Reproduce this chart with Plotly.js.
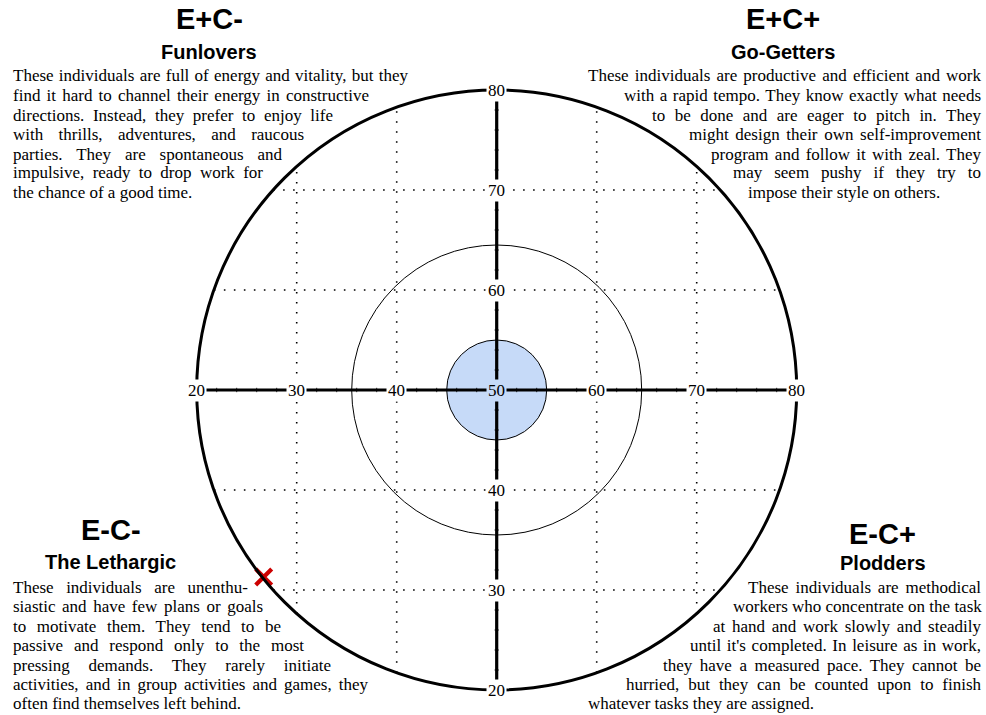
<!DOCTYPE html>
<html><head><meta charset="utf-8">
<script src="https://cdn.plot.ly/plotly-3.0.1.min.js"></script>
<style>html,body{margin:0;padding:0;background:#fff}#chart{width:986px;height:715px}</style>
</head><body><div id="chart"></div>
<script>
// ---------------- data ----------------
const scaleValues = [20, 30, 40, 50, 60, 70, 80];
const gridValues = [30, 40, 60, 70];
const minorTickValues = [22, 24, 26, 28, 32, 34, 36, 38, 42, 44, 46, 48, 52, 54, 56, 58, 62, 64, 66, 68, 72, 74, 76, 78];
const centerValue = 50;
const outerRadius = 30;
const innerRadius = 14.5;
const coreRadius = 5;
const markX = [26.7];
const markY = [31.3];
const codes = ['E+C-', 'E+C+', 'E-C-', 'E-C+'];
const names = ['Funlovers', 'Go-Getters', 'The Lethargic', 'Plodders'];
const textFunlovers = [
  'These individuals are full of energy and vitality, but they',
  'find it hard to channel their energy in constructive',
  'directions. Instead, they prefer to enjoy life',
  'with thrills, adventures, and raucous',
  'parties. They are spontaneous and',
  'impulsive, ready to drop work for',
  'the chance of a good time.'
];
const textGoGetters = [
  'These individuals are productive and efficient and work',
  'with a rapid tempo. They know exactly what needs',
  'to be done and are eager to pitch in. They',
  'might design their own self-improvement',
  'program and follow it with zeal. They',
  'may seem pushy if they try to',
  'impose their style on others.'
];
const textLethargic = [
  'These individuals are unenthu-',
  'siastic and have few plans or goals',
  'to motivate them. They tend to be',
  'passive and respond only to the most',
  'pressing demands. They rarely initiate',
  'activities, and in group activities and games, they',
  'often find themselves left behind.'
];
const textPlodders = [
  'These individuals are methodical',
  'workers who concentrate on the task',
  'at hand and work slowly and steadily',
  "until it's completed. In leisure as in work,",
  'they have a measured pace. They cannot be',
  'hurried, but they can be counted upon to finish',
  'whatever tasks they are assigned.'
];

// ---------------- layout geometry (pixels) ----------------
const W = 986, H = 715;
const CX = 496.7, CY = 390, PXU = 10; // px per unit
const px = x => x / W;
const py = y => 1 - y / H;

const SERIF = 'Liberation Serif, Times New Roman, serif';
const SANS = 'Liberation Sans, Arial, sans-serif';
const BODY = 17;

const paragraphs = [
  {lines: textFunlovers, ys: [76, 95.5, 115, 134.5, 154, 173, 192.5],
   left: [12, 12, 12, 12, 12, 12, 12], right: [407, 368, 332, 303, 281, 262, null],
   code: [209, 19], name: [209, 52]},
  {lines: textGoGetters, ys: [76, 95.5, 115, 134.5, 154, 173, 192.5],
   left: [587, 623, 651, 688, 710, 732, 747], right: [980, 980, 980, 980, 980, 980, null],
   code: [783, 19], name: [783, 52]},
  {lines: textLethargic, ys: [587, 606.5, 626, 645.5, 665, 684, 703.5],
   left: [12, 12, 12, 12, 12, 12, 12], right: [247, 262, 280, 303, 330, 367, null],
   code: [111, 530], name: [110, 562]},
  {lines: textPlodders, ys: [587, 606.5, 626, 645.5, 665, 684, 703.5],
   left: [747, 732, 712, 689, 662, 625, 587], right: [980, 980, 980, 980, 980, 980, null],
   code: [882, 534], name: [883, 563]}
];

// ---------------- traces ----------------
const data = [];
const shapes = [];

// dotted grid lines clipped to outer circle
gridValues.forEach(v => {
  const d = v - centerValue;
  const h = Math.sqrt(outerRadius * outerRadius - d * d);
  data.push({x: [centerValue - h, centerValue + h], y: [v, v], mode: 'lines',
    line: {color: '#000', width: 1.6, dash: '1.6px,8.4px'}, hoverinfo: 'skip', showlegend: false});
  data.push({x: [v, v], y: [centerValue - h, centerValue + h], mode: 'lines',
    line: {color: '#000', width: 1.6, dash: '1.6px,8.4px'}, hoverinfo: 'skip', showlegend: false});
});

// circles
shapes.push({type: 'circle', xref: 'x', yref: 'y', layer: 'above',
  x0: centerValue - outerRadius, x1: centerValue + outerRadius,
  y0: centerValue - outerRadius, y1: centerValue + outerRadius,
  line: {color: '#000', width: 3}});
shapes.push({type: 'circle', xref: 'x', yref: 'y', layer: 'above',
  x0: centerValue - innerRadius, x1: centerValue + innerRadius,
  y0: centerValue - innerRadius, y1: centerValue + innerRadius,
  line: {color: '#000', width: 1}});
shapes.push({type: 'circle', xref: 'x', yref: 'y', layer: 'above',
  x0: centerValue - coreRadius, x1: centerValue + coreRadius,
  y0: centerValue - coreRadius, y1: centerValue + coreRadius,
  fillcolor: '#c6daf8', line: {color: '#000', width: 1}});
// axes
const lo = scaleValues[0], hi = scaleValues[scaleValues.length - 1];
shapes.push({type: 'line', xref: 'x', yref: 'y', layer: 'above', x0: lo, x1: hi, y0: centerValue, y1: centerValue,
  line: {color: '#000', width: 3.2}});
shapes.push({type: 'line', xref: 'x', yref: 'y', layer: 'above', x0: centerValue, x1: centerValue, y0: lo, y1: hi,
  line: {color: '#000', width: 3.2}});
// minor ticks
minorTickValues.forEach(v => {
  shapes.push({type: 'line', xref: 'x', yref: 'y', layer: 'above', x0: v, x1: v, y0: centerValue - 0.22, y1: centerValue + 0.22,
    line: {color: '#000', width: 0.8}});
  shapes.push({type: 'line', xref: 'x', yref: 'y', layer: 'above', y0: v, y1: v, x0: centerValue - 0.22, x1: centerValue + 0.22,
    line: {color: '#000', width: 0.8}});
});

// red mark
data.push({x: markX, y: markY, mode: 'markers', hoverinfo: 'skip', showlegend: false,
  marker: {symbol: 'x-thin', size: 16, line: {color: '#cc0000', width: 4.2}}});

// ---------------- annotations ----------------
const annotations = [];
scaleValues.forEach(v => {
  const bg = v === centerValue ? '#c6daf8' : '#ffffff';
  annotations.push({x: v, y: centerValue, xref: 'x', yref: 'y', text: String(v), showarrow: false,
    font: {family: SERIF, size: 17, color: '#000'}, bgcolor: bg, borderpad: 1,
    xanchor: 'center', yanchor: 'middle'});
  if (v !== centerValue) {
    annotations.push({x: centerValue, y: v, xref: 'x', yref: 'y', text: String(v), showarrow: false,
      font: {family: SERIF, size: 17, color: '#000'}, bgcolor: bg, borderpad: 1,
      xanchor: 'center', yanchor: 'middle'});
  }
});

const justify = [];
paragraphs.forEach((p, qi) => {
  annotations.push({x: px(p.code[0]), y: py(p.code[1]), xref: 'paper', yref: 'paper', showarrow: false,
    text: '<b>' + codes[qi] + '</b>', font: {family: SANS, size: 29, color: '#000'},
    xanchor: 'center', yanchor: 'middle'});
  annotations.push({x: px(p.name[0]), y: py(p.name[1]), xref: 'paper', yref: 'paper', showarrow: false,
    text: '<b>' + names[qi] + '</b>', font: {family: SANS, size: 20, color: '#000'},
    xanchor: 'center', yanchor: 'middle'});
  p.lines.forEach((line, li) => {
    const idx = annotations.length;
    annotations.push({x: px(p.left[li]), y: py(p.ys[li]), xref: 'paper', yref: 'paper', showarrow: false,
      text: line, font: {family: SERIF, size: BODY, color: '#000'}, align: 'left', borderpad: 0,
      xanchor: 'left', yanchor: 'middle'});
    if (p.right[li] !== null) justify.push({index: idx, text: line, width: p.right[li] - p.left[li]});
  });
});

const layout = {
  width: W, height: H,
  margin: {l: 0, r: 0, t: 0, b: 0, pad: 0},
  paper_bgcolor: '#fff', plot_bgcolor: '#fff',
  xaxis: {range: [centerValue - CX / PXU, centerValue + (W - CX) / PXU], visible: false, fixedrange: true},
  yaxis: {range: [centerValue - (H - CY) / PXU, centerValue + CY / PXU], visible: false, fixedrange: true},
  showlegend: false,
  shapes: shapes,
  annotations: annotations
};

Plotly.newPlot('chart', data, layout, {staticPlot: true, displayModeBar: false}).then(() => {
  justify.forEach(j => {
    const el = document.querySelector('#chart .annotation[data-index="' + j.index + '"] .annotation-text');
    if (!el) return;
    const natural = el.getComputedTextLength();
    const spaces = (j.text.match(/ /g) || []).length;
    if (spaces > 0 && j.width > natural) {
      el.style.wordSpacing = ((j.width - natural) / spaces).toFixed(2) + 'px';
    }
  });
});
</script>
</body></html>
